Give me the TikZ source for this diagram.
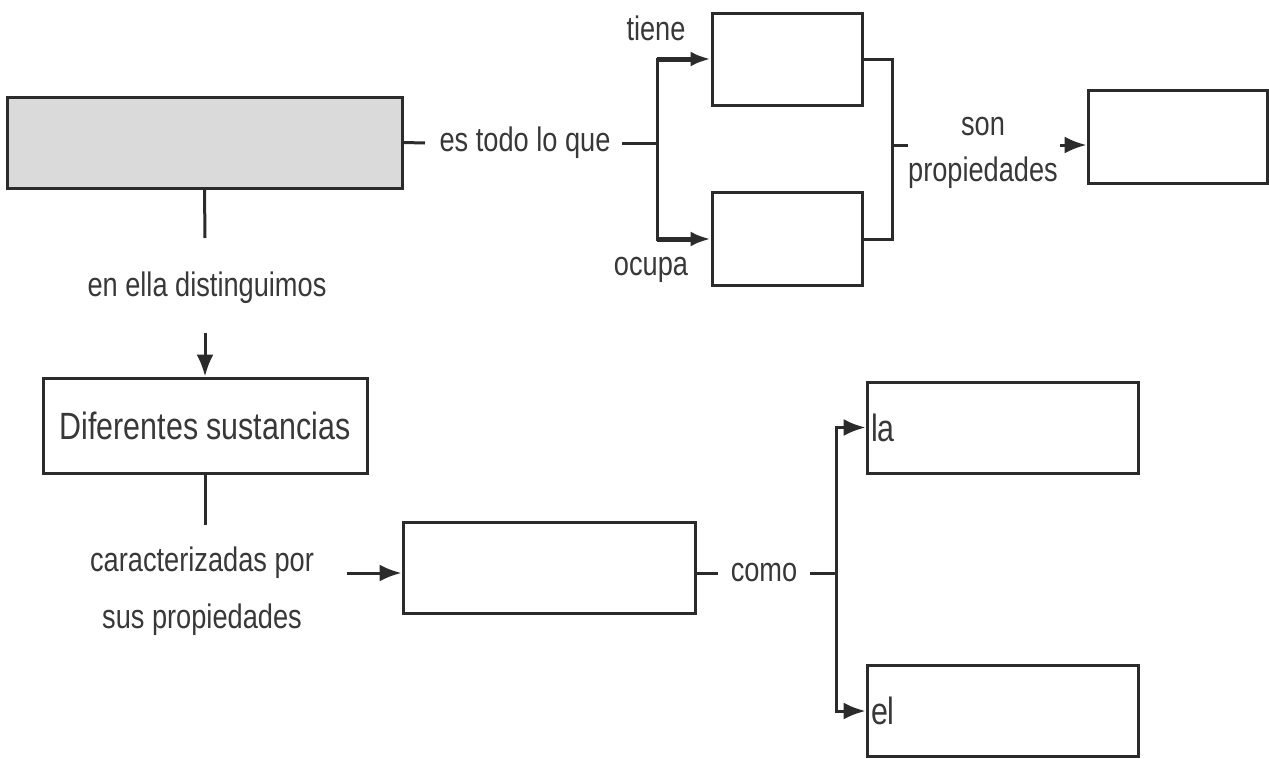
\documentclass[tikz,border=0pt]{standalone}
\usepackage{fontspec}
\setmainfont{Liberation Sans}[FakeStretch=0.8]
\usetikzlibrary{arrows.meta}
\definecolor{linec}{HTML}{2B2B2B}
\definecolor{textc}{HTML}{383838}
\definecolor{grayfill}{HTML}{DADADA}
\tikzset{
  box/.style={draw=linec, line width=3pt, rectangle, inner sep=0pt},
  lbl/.style={font=\fontsize{34}{46}\selectfont, text=textc, inner sep=0pt},
  boxtext/.style={font=\fontsize{38}{40}\selectfont, text=textc},
  conn/.style={draw=linec, line width=3pt},
  arr/.style={conn, -{Latex[length=22pt,width=17pt]}},
  thickarr/.style={draw=linec, line width=5pt, -{Latex[length=20pt,width=15pt]}},
}
\begin{document}
\begin{tikzpicture}[x=1pt,y=-1pt]
\useasboundingbox (0,0) rectangle (1269,758);
% boxes
\node[box, fill=grayfill, minimum width=395pt, minimum height=91pt] (g) at (204.5,142.5) {};
\node[box, minimum width=150pt, minimum height=92pt] (t1) at (787,59) {};
\node[box, minimum width=150pt, minimum height=93pt] (t2) at (787,239) {};
\node[box, minimum width=179pt, minimum height=93pt] (p) at (1177.5,136.5) {};
\node[box, boxtext, minimum width=324pt, minimum height=95pt] (d) at (205,425.5) {Diferentes sustancias};
\node[box, minimum width=292pt, minimum height=91pt] (m) at (549,567.5) {};
\node[box, text width=263pt, inner xsep=4pt, minimum height=91pt, align=left, font=\fontsize{38}{40}\selectfont, text=textc] (la) at (1002.5,427.5) {la};
\node[box, text width=263pt, inner xsep=4pt, minimum height=91pt, align=left, font=\fontsize{38}{40}\selectfont, text=textc] (el) at (1002.5,711) {el};
% labels
\node[lbl] (et) at (525,143) {es todo lo que};
\node[lbl] (ti) at (656,28) {tiene};
\node[lbl] (oc) at (651,270) {ocupa};
\node[lbl, align=center] (sp) at (983,153) {son\\propiedades};
\node[lbl] (ed) at (207,288) {en ella distinguimos};
\node[lbl, align=center, font=\fontsize{34}{57}\selectfont] (cp) at (202,591) {caracterizadas por\\sus propiedades};
\node[lbl] (co) at (764,573) {como};
% coordinates
\coordinate (e1) at (425,143);
\coordinate (e2) at (622,143);
\coordinate (j1) at (657,143);
\coordinate (j2) at (892,145);
\coordinate (s1) at (908,145);
\coordinate (s2) at (1060,145);
\coordinate (c1) at (205,238);
\coordinate (c2) at (205,333);
\coordinate (c3) at (205,525);
\coordinate (c4) at (347,573);
\coordinate (k1) at (718,573);
\coordinate (k2) at (810,573);
\coordinate (j3) at (836,573);
% connectors
\draw[conn] (g.east) -- (e1);
\draw[conn] (e2) -- (j1);
\draw[conn, shorten <=-1.5pt, shorten >=-1.5pt] (t1.west -| j1) -- (t2.west -| j1);
\draw[thickarr] (t1.west -| j1) -- (t1.west);
\draw[thickarr] (t2.west -| j1) -- (t2.west);
\draw[conn] (t1.east) -| (j2) |- (t2.east);
\draw[conn] (j2) -- (s1);
\draw[arr] (s2) -- (s2 -| p.west);
\draw[conn] (g.south) -- (c1);
\draw[arr] (c2) -- (d.north);
\draw[conn] (d.south) -- (c3);
\draw[arr] (c4) -- (c4 -| m.west);
\draw[conn] (m.east |- k1) -- (k1);
\draw[conn] (k2) -- (j3);
\draw[arr] (j3) |- (la.west);
\draw[arr] (j3) |- (el.west);
\end{tikzpicture}
\end{document}
